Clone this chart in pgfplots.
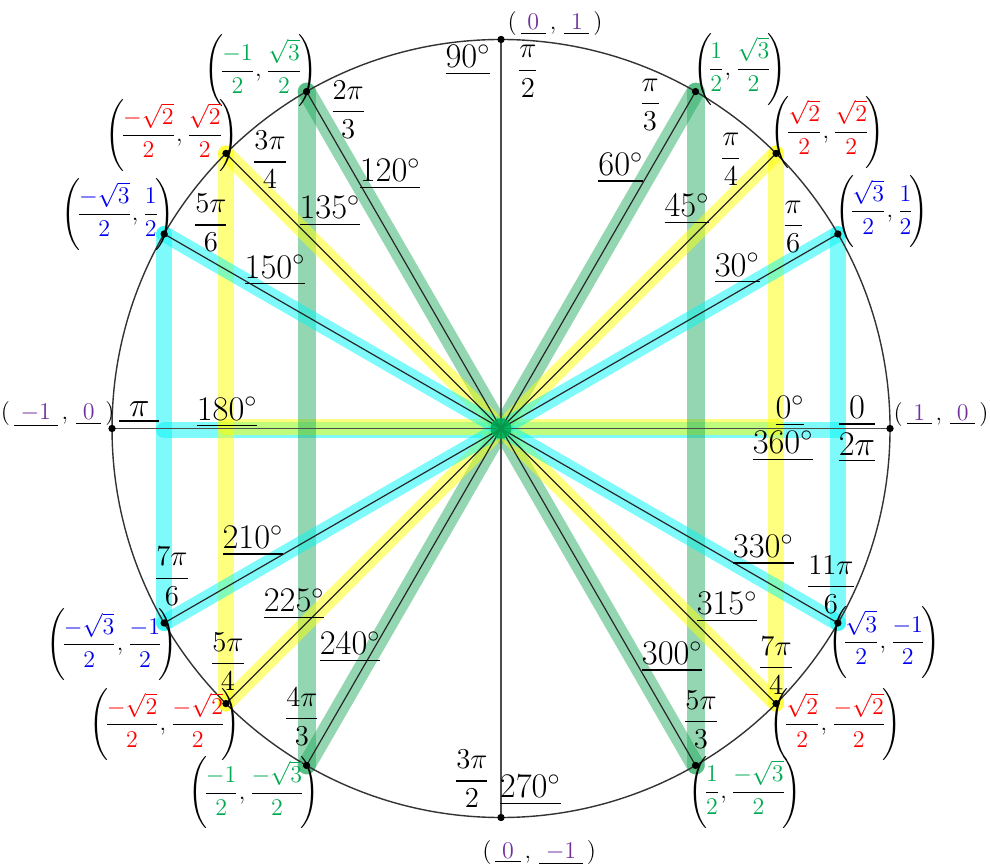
\documentclass[border=0pt]{standalone}
\usepackage{amsmath}
\usepackage{pgfplots}
\pgfplotsset{compat=1.18}
\definecolor{hlgreen}{RGB}{20,165,85}
\definecolor{hlyellow}{RGB}{255,255,0}
\definecolor{hlcyan}{RGB}{0,245,245}
\definecolor{tgreen}{RGB}{0,170,80}
\definecolor{tred}{RGB}{255,0,0}
\definecolor{tblue}{RGB}{0,0,240}
\definecolor{tpurple}{RGB}{112,48,160}
\newcommand{\fr}[3]{\dfrac{\color{#1}#2}{\color{#1}#3}}
\newcommand{\cl}[5]{\large$\left(\!\fr{#1}{#2}{#3},\fr{#1}{#4}{#5}\!\right)$}
\newcommand{\dg}[1]{\LARGE\underline{#1$^\circ$}}
\newcommand{\rd}[2]{\fontsize{13.5pt}{16pt}\selectfont$\dfrac{#1}{#2}$}
\newcommand{\pc}[2]{\fontsize{13pt}{15pt}\selectfont$(\,\underline{\;{\color{tpurple}#1}\;}\,,\,\underline{\;{\color{tpurple}#2}\;}\,)$}
\begin{document}
\begin{tikzpicture}[every node/.style={inner sep=0.5pt}]
\begin{axis}[
  width=495pt, height=433.5pt, scale only axis,
  xmin=-1.288, xmax=1.257, ymin=-1.1272, ymax=1.1015,
  axis lines=none, clip=false,
  hlg/.style={hlgreen, opacity=0.45, line width=9pt, line cap=round},
  hly/.style={hlyellow, opacity=0.5, line width=8pt, line cap=round},
  hlc/.style={hlcyan, opacity=0.5, line width=8pt, line cap=round},
  thinr/.style={black!85, line width=0.6pt},
]
\coordinate (ll) at (axis cs:-1.288,-1.1272);
\coordinate (ur) at (axis cs:1.257,1.1015);
% highlighted horizontal
\addplot[hlc] coordinates {(-0.866,-0.005) (0.866,-0.005)};
\addplot[hly] coordinates {(-0.707,0.005) (0.707,0.005)};
% green (60 family)
\addplot[hlg] coordinates {(0,0) (0.5,0.866)};
\addplot[hlg] coordinates {(0,0) (-0.5,0.866)};
\addplot[hlg] coordinates {(0,0) (-0.5,-0.866)};
\addplot[hlg] coordinates {(0,0) (0.5,-0.866)};
\addplot[hlg] coordinates {(0.5,0.866) (0.5,-0.866)};
\addplot[hlg] coordinates {(-0.5,0.866) (-0.5,-0.866)};
% yellow (45 family)
\addplot[hly] coordinates {(0,0) (0.7071,0.7071)};
\addplot[hly] coordinates {(0,0) (-0.7071,0.7071)};
\addplot[hly] coordinates {(0,0) (-0.7071,-0.7071)};
\addplot[hly] coordinates {(0,0) (0.7071,-0.7071)};
\addplot[hly] coordinates {(0.7071,0.7071) (0.7071,-0.7071)};
\addplot[hly] coordinates {(-0.7071,0.7071) (-0.7071,-0.7071)};
% cyan (30 family)
\addplot[hlc] coordinates {(0,0) (0.866,0.5)};
\addplot[hlc] coordinates {(0,0) (-0.866,0.5)};
\addplot[hlc] coordinates {(0,0) (-0.866,-0.5)};
\addplot[hlc] coordinates {(0,0) (0.866,-0.5)};
\addplot[hlc] coordinates {(0.866,0.5) (0.866,-0.5)};
\addplot[hlc] coordinates {(-0.866,0.5) (-0.866,-0.5)};
% axes lines
\addplot[black!70, line width=0.8pt] coordinates {(-1,0) (1,0)};
\addplot[black!70, line width=0.8pt] coordinates {(0,-1) (0,1)};
% thin radial lines
\addplot[thinr] coordinates {(0.866,0.5) (-0.866,-0.5)};
\addplot[thinr] coordinates {(0.7071,0.7071) (-0.7071,-0.7071)};
\addplot[thinr] coordinates {(0.5,0.866) (-0.5,-0.866)};
\addplot[thinr] coordinates {(-0.866,0.5) (0.866,-0.5)};
\addplot[thinr] coordinates {(-0.7071,0.7071) (0.7071,-0.7071)};
\addplot[thinr] coordinates {(-0.5,0.866) (0.5,-0.866)};
% circle
\draw[black!80, line width=0.7pt] (axis cs:0,0) circle [radius=1];
% points
\addplot[only marks, mark=*, mark size=1.6pt, black] coordinates {
 (1,0) (0.866,0.5) (0.7071,0.7071) (0.5,0.866) (0,1) (-0.5,0.866) (-0.7071,0.7071) (-0.866,0.5)
 (-1,0) (-0.866,-0.5) (-0.7071,-0.7071) (-0.5,-0.866) (0,-1) (0.5,-0.866) (0.7071,-0.7071) (0.866,-0.5)};
\addplot[only marks, mark=*, mark size=5pt, color=tgreen, opacity=0.85] coordinates {(0,0)};
% axis point labels
\node at (axis cs:0.139,1.040) {\pc{0}{1}};
\node at (axis cs:0.098,-1.091) {\pc{0}{-1}};
\node at (axis cs:-1.140,0.037) {\pc{-1}{0}};
\node at (axis cs:1.131,0.037) {\pc{1}{0}};
% coordinate labels
\node at (axis cs:0.614,0.924) {\cl{tgreen}{1}{2}{\sqrt{3}}{2}};
\node at (axis cs:0.840,0.762) {\cl{tred}{\sqrt{2}}{2}{\sqrt{2}}{2}};
\node at (axis cs:0.979,0.557) {\cl{tblue}{\sqrt{3}}{2}{1}{2}};
\node at (axis cs:-0.617,0.919) {\cl{tgreen}{-1}{2}{\sqrt{3}}{2}};
\node at (axis cs:-0.846,0.754) {\cl{tred}{-\sqrt{2}}{2}{\sqrt{2}}{2}};
\node at (axis cs:-0.985,0.551) {\cl{tblue}{-\sqrt{3}}{2}{1}{2}};
\node at (axis cs:-1.000,-0.556) {\cl{tblue}{-\sqrt{3}}{2}{-1}{2}};
\node at (axis cs:-0.864,-0.762) {\cl{tred}{-\sqrt{2}}{2}{-\sqrt{2}}{2}};
\node at (axis cs:-0.635,-0.937) {\cl{tgreen}{-1}{2}{-\sqrt{3}}{2}};
\node at (axis cs:0.627,-0.935) {\cl{tgreen}{1}{2}{-\sqrt{3}}{2}};
\node at (axis cs:0.859,-0.762) {\cl{tred}{\sqrt{2}}{2}{-\sqrt{2}}{2}};
\node at (axis cs:0.985,-0.550) {\cl{tblue}{\sqrt{3}}{2}{-1}{2}};
% radian labels
\node at (axis cs:0.069,0.918) {\rd{\pi}{2}};
\node at (axis cs:0.383,0.832) {\rd{\pi}{3}};
\node at (axis cs:0.591,0.692) {\rd{\pi}{4}};
\node at (axis cs:0.751,0.518) {\rd{\pi}{6}};
\node at (axis cs:0.915,0.045) {\LARGE\underline{\;0\;}};
\node at (axis cs:0.915,-0.050) {\LARGE\underline{$2\pi$}};
\node at (axis cs:-0.930,0.042) {\LARGE\underline{$\;\pi\;$}};
\node at (axis cs:-0.393,0.819) {\rd{2\pi}{3}};
\node at (axis cs:-0.594,0.690) {\rd{3\pi}{4}};
\node at (axis cs:-0.746,0.528) {\rd{5\pi}{6}};
\node at (axis cs:-0.846,-0.380) {\rd{7\pi}{6}};
\node at (axis cs:-0.702,-0.600) {\rd{5\pi}{4}};
\node at (axis cs:-0.512,-0.741) {\rd{4\pi}{3}};
\node at (axis cs:-0.075,-0.901) {\rd{3\pi}{2}};
\node at (axis cs:0.514,-0.748) {\rd{5\pi}{3}};
\node at (axis cs:0.707,-0.610) {\rd{7\pi}{4}};
\node at (axis cs:0.848,-0.402) {\rd{11\pi}{6}};
% degree labels
\node at (axis cs:-0.085,0.947) {\dg{90}};
\node at (axis cs:0.308,0.670) {\dg{60}};
\node at (axis cs:0.478,0.564) {\dg{45}};
\node at (axis cs:0.607,0.412) {\dg{30}};
\node at (axis cs:-0.285,0.654) {\dg{120}};
\node at (axis cs:-0.440,0.559) {\dg{135}};
\node at (axis cs:-0.581,0.407) {\dg{150}};
\node at (axis cs:-0.704,0.042) {\dg{180}};
\node at (axis cs:0.743,0.045) {\dg{0}};
\node at (axis cs:0.725,-0.045) {\dg{360}};
\node at (axis cs:-0.638,-0.289) {\dg{210}};
\node at (axis cs:-0.532,-0.451) {\dg{225}};
\node at (axis cs:-0.388,-0.562) {\dg{240}};
\node at (axis cs:0.075,-0.929) {\dg{270}};
\node at (axis cs:0.440,-0.587) {\dg{300}};
\node at (axis cs:0.581,-0.459) {\dg{315}};
\node at (axis cs:0.674,-0.312) {\dg{330}};
\end{axis}
\pgfresetboundingbox
\path[use as bounding box] (ll) rectangle (ur);
\end{tikzpicture}
\end{document}
